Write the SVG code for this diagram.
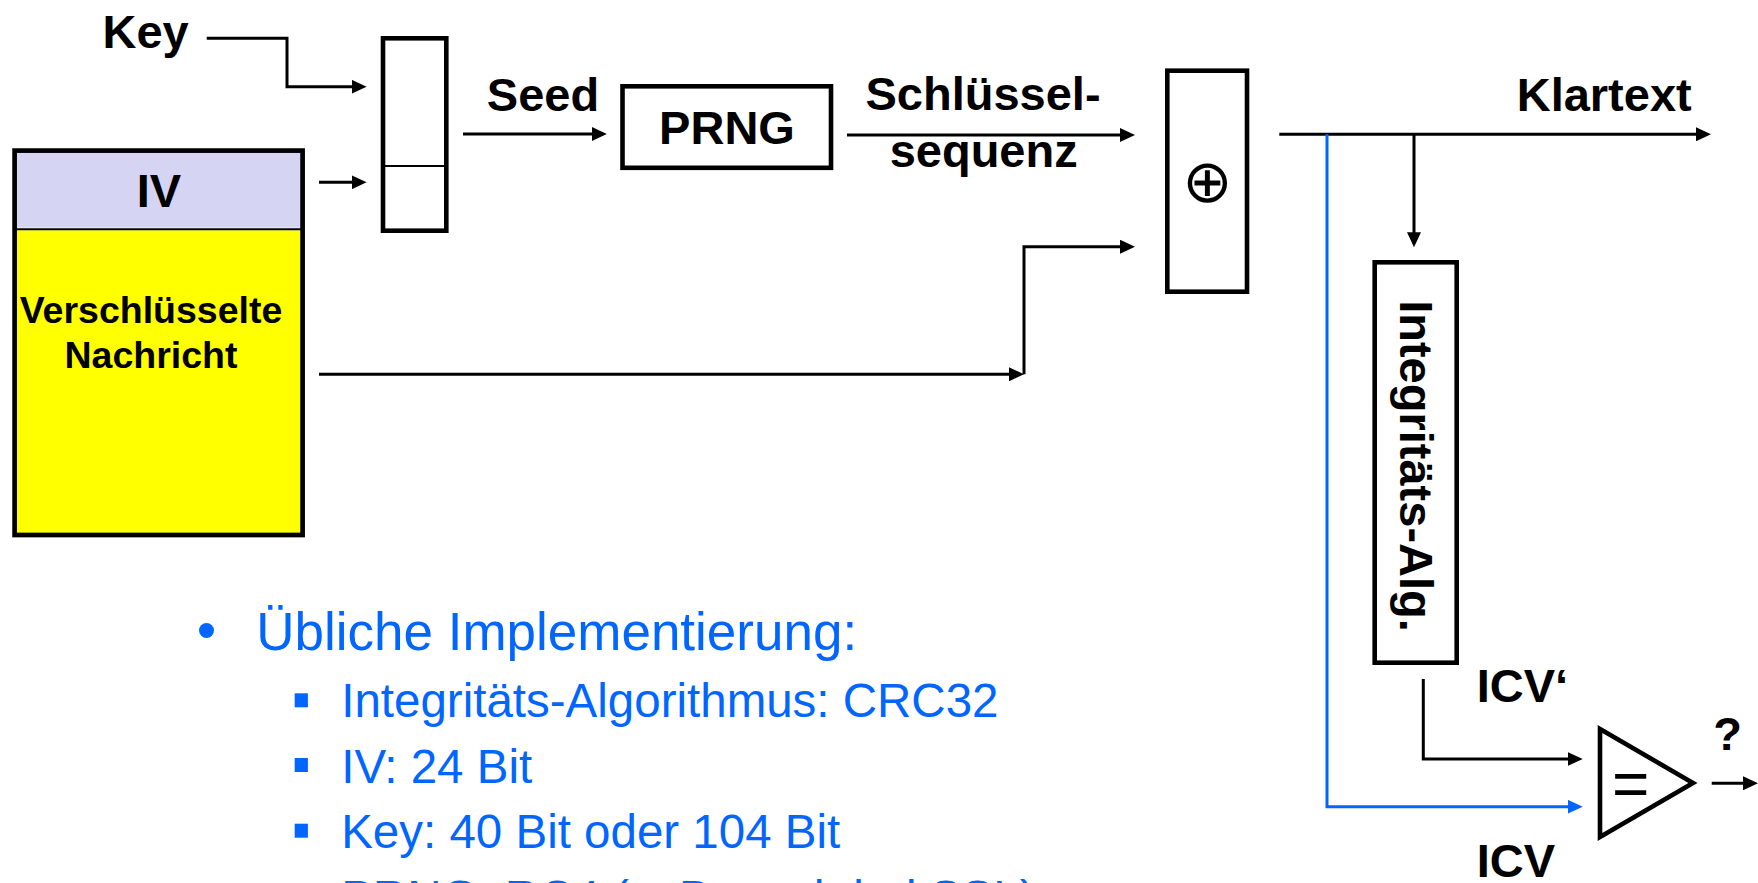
<svg xmlns="http://www.w3.org/2000/svg" width="1758" height="883" viewBox="0 0 1758 883">
<defs>
<style>
.lbl{font-family:"Liberation Sans",Arial,sans-serif;font-weight:bold;font-size:47px;fill:#000}
.small{font-size:37.5px}
.box{fill:#fff;stroke:#000;stroke-width:4.6}
.conn{fill:none;stroke:#000;stroke-width:3}
.blue{stroke:#0066FF}
.txt{font-family:"Liberation Sans",Arial,sans-serif;font-size:47.5px;fill:#0066FF}
.head{font-size:53px}
</style>
<marker id="ah" markerUnits="userSpaceOnUse" markerWidth="15" markerHeight="14" refX="3" refY="7" orient="auto"><path d="M0,0 L15,7 L0,14 z" fill="#000"/></marker>
<marker id="ahb" markerUnits="userSpaceOnUse" markerWidth="15" markerHeight="14" refX="3" refY="7" orient="auto"><path d="M0,0 L15,7 L0,14 z" fill="#0066FF"/></marker>
</defs>
<rect width="1758" height="883" fill="#fff"/>

<g id="connectors">
<path class="conn" d="M206.7,38.3 H287 V86.7 H354.6" marker-end="url(#ah)"/>
<path class="conn" d="M319,182.3 H354.6" marker-end="url(#ah)"/>
<path class="conn" d="M463,134 H594.8" marker-end="url(#ah)"/>
<path class="conn" d="M847,135 H1123" marker-end="url(#ah)"/>
<path class="conn" d="M319,374.3 H1012" marker-end="url(#ah)"/>
<path class="conn" d="M1024,374.3 V246.7 H1123" marker-end="url(#ah)"/>
<path class="conn" d="M1279.3,134.3 H1699" marker-end="url(#ah)"/>
<path class="conn" d="M1414,134.3 V235.3" marker-end="url(#ah)"/>
<path class="conn" d="M1423.3,679 V759 H1570.7" marker-end="url(#ah)"/>
<path class="conn blue" d="M1327,134.3 V806.7 H1570.7" marker-end="url(#ahb)"/>
<path class="conn" d="M1711.7,783.3 H1746" marker-end="url(#ah)"/>
</g>

<g id="key-label"><text class="lbl" x="102.5" y="47.7">Key</text></g>

<g id="message">
<rect x="14.6" y="150.6" width="288" height="77" fill="#D5D5F3"/>
<rect x="14.6" y="230.3" width="288" height="304.7" fill="#FFFF00"/>
<line x1="14.6" y1="229.3" x2="302.6" y2="229.3" stroke="#000" stroke-width="2"/>
<rect x="14.6" y="150.6" width="288" height="384.4" fill="none" stroke="#000" stroke-width="4.7"/>
<text class="lbl" x="159" y="206.7" text-anchor="middle">IV</text>
<text class="lbl small" x="151" y="322.7" text-anchor="middle">Verschlüsselte</text>
<text class="lbl small" x="151" y="368.3" text-anchor="middle">Nachricht</text>
</g>

<g id="register">
<rect class="box" x="383" y="38.3" width="63.3" height="192.4"/>
<line x1="383" y1="166" x2="446.3" y2="166" stroke="#000" stroke-width="2"/>
</g>

<g id="seed-label"><text class="lbl" x="486.8" y="111">Seed</text></g>

<g id="prng">
<rect class="box" x="622.5" y="86.3" width="208.5" height="81.5"/>
<text class="lbl" x="727" y="144.3" text-anchor="middle">PRNG</text>
</g>

<g id="keystream-label">
<text class="lbl" x="983" y="110" text-anchor="middle">Schlüssel-</text>
<text class="lbl" x="983.7" y="167" text-anchor="middle">sequenz</text>
</g>

<g id="xor">
<rect class="box" x="1167.3" y="70.7" width="79.7" height="221"/>
<text x="1207.3" y="202" text-anchor="middle" font-family="DejaVu Sans,sans-serif" font-size="60">⊕</text>
</g>

<g id="klartext-label"><text class="lbl" x="1516.7" y="110.7">Klartext</text></g>

<g id="integrity">
<rect class="box" x="1374.7" y="262.3" width="82" height="400.4"/>
<text class="lbl" transform="translate(1400,466) rotate(90)" text-anchor="middle">Integritäts-Alg.</text>
</g>

<g id="icv-labels">
<text class="lbl" x="1476.7" y="701.7">ICV‘</text>
<text class="lbl" x="1476.7" y="876.7">ICV</text>
</g>

<g id="comparator">
<polygon points="1600,729 1600,837 1693,783" fill="#fff" stroke="#000" stroke-width="4.6"/>
<text x="1612" y="806" font-family="Liberation Sans,Arial,sans-serif" font-size="64">=</text>
</g>

<g id="result-label"><text class="lbl" x="1713.3" y="750">?</text></g>

<g id="notes">
<circle cx="206.5" cy="630.5" r="7.5" fill="#0066FF"/>
<text class="txt head" x="256.2" y="650">Übliche Implementierung:</text>
<rect x="294.7" y="693.3" width="13.2" height="14" fill="#0066FF"/>
<text class="txt" x="341.2" y="716.7">Integritäts-Algorithmus: CRC32</text>
<rect x="294.7" y="758" width="13.2" height="14" fill="#0066FF"/>
<text class="txt" x="341.2" y="782.7">IV: 24 Bit</text>
<rect x="294.7" y="823.7" width="13.2" height="14" fill="#0066FF"/>
<text class="txt" x="341.2" y="848.3">Key: 40 Bit oder 104 Bit</text>
<rect x="294.7" y="889.5" width="13.2" height="14" fill="#0066FF"/>
<text class="txt" x="341.2" y="914.1">PRNG: RC4 (z. B. auch bei SSL)</text>
</g>
</svg>
